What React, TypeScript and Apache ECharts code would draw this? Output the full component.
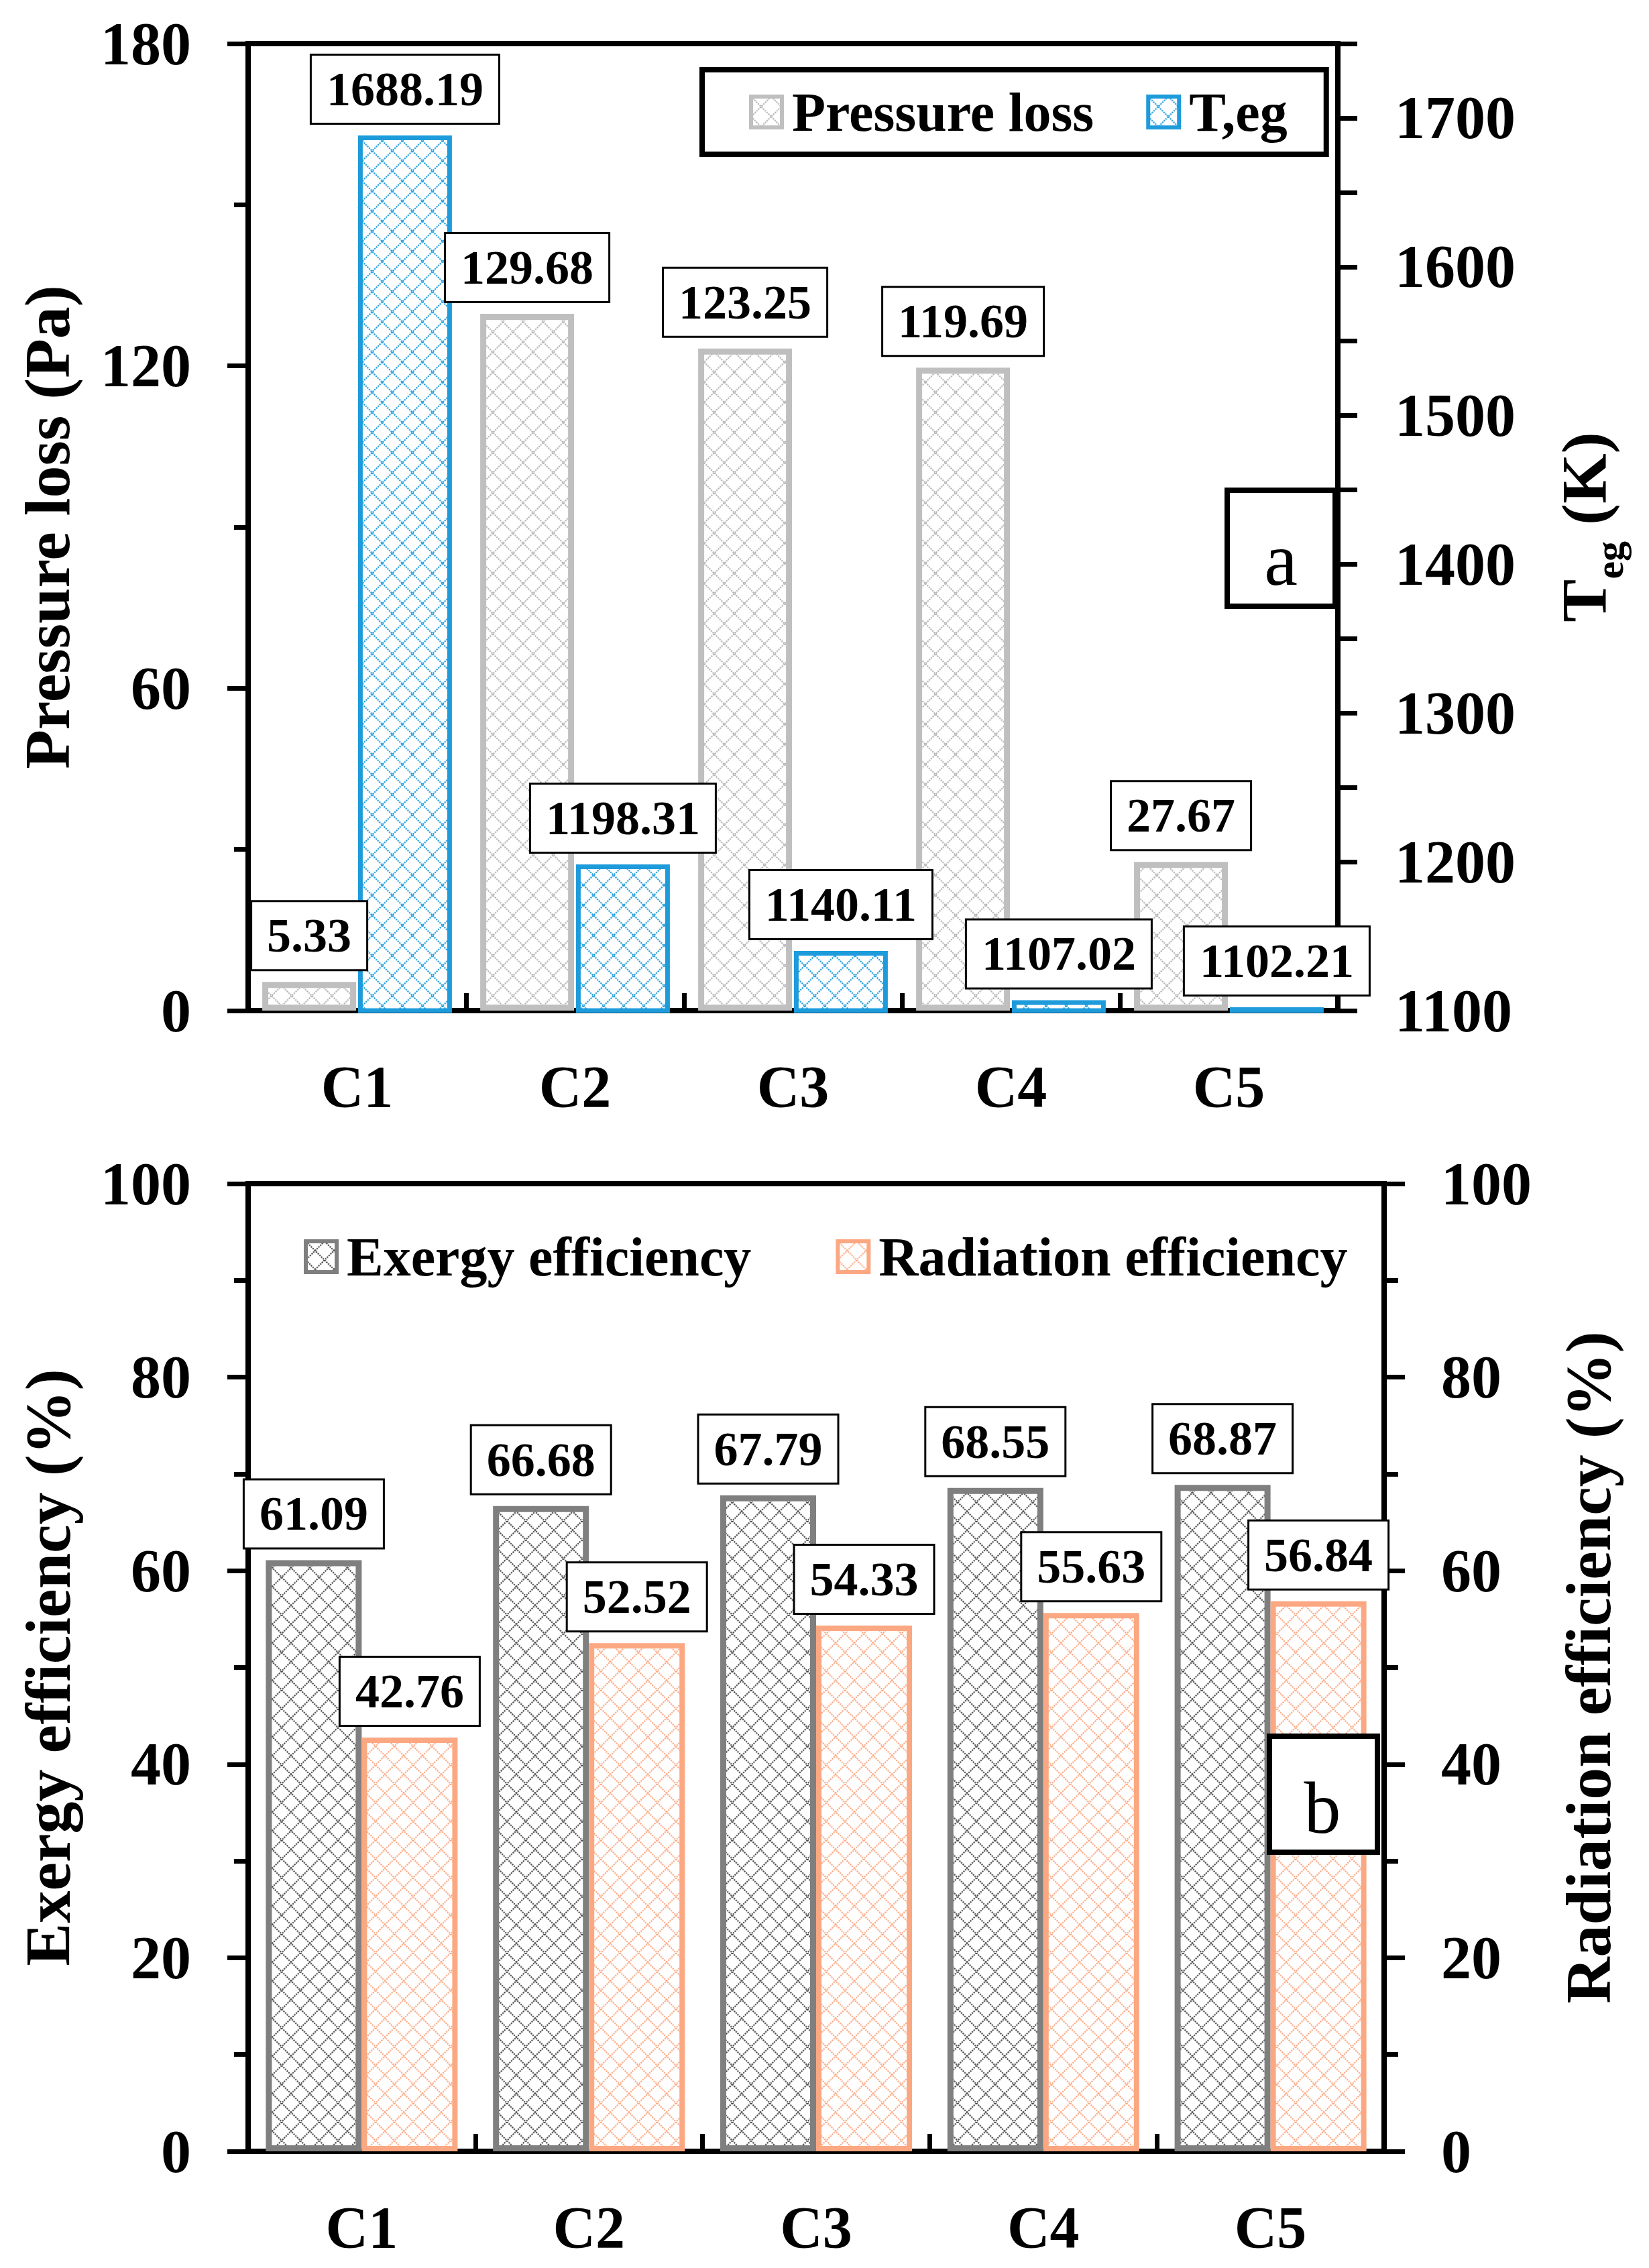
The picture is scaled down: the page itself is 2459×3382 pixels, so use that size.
import React, { useEffect, useRef } from "react";
import * as echarts from "echarts";

// ---------- data ----------
const categories = ["C1", "C2", "C3", "C4", "C5"];
const pressureLoss = [5.33, 129.68, 123.25, 119.69, 27.67];
const tEg = [1688.19, 1198.31, 1140.11, 1107.02, 1102.21];
const exergyEff = [61.09, 66.68, 67.79, 68.55, 68.87];
const radiationEff = [42.76, 52.52, 54.33, 55.63, 56.84];

const pressureTickLabels = [0, 60, 120, 180];
const tegTickLabels = [1100, 1200, 1300, 1400, 1500, 1600, 1700];
const effTickLabels = [0, 20, 40, 60, 80, 100];

const legendTop = ["Pressure loss", "T,eg"];
const legendBottom = ["Exergy efficiency", "Radiation efficiency"];

// ---------- styles ----------
const FONT = "'Liberation Serif', 'Times New Roman', Times, serif";
const GRAY = "#BFBFBF";
const BLUE = "#1D9BDB";
const DARK = "#7F7F7F";
const SALMON = "#FBA882";

function hatch(color: string, size = 30) {
  const s = 3;
  const c = document.createElement("canvas");
  c.width = size * s;
  c.height = size * s;
  const ctx = c.getContext("2d") as CanvasRenderingContext2D;
  ctx.fillStyle = "#ffffff";
  ctx.fillRect(0, 0, c.width, c.height);
  ctx.strokeStyle = color;
  ctx.lineWidth = 2.2 * s;
  ctx.setLineDash([2.2 * s, 1.4 * s]);
  ctx.beginPath();
  ctx.moveTo(0, 0);
  ctx.lineTo(c.width, c.height);
  ctx.moveTo(c.width, 0);
  ctx.lineTo(0, c.height);
  ctx.stroke();
  return {
    image: c.toDataURL("image/png"),
    repeat: "repeat",
    imageWidth: size,
    imageHeight: size,
  };
}

const dataLabel = {
  show: true,
  position: "top",
  distance: 19,
  fontFamily: FONT,
  fontSize: 72,
  fontWeight: "bold",
  color: "#000",
  backgroundColor: "#fff",
  borderColor: "#000",
  borderWidth: 3,
  padding: [14, 22, 14, 22],
  formatter: (p: any) => Number(p.value).toFixed(2),
};

const axisLabelStyle = {
  fontFamily: FONT,
  fontSize: 90,
  fontWeight: "bold",
  color: "#000",
  margin: 85,
};

const nameStyle = {
  fontFamily: FONT,
  fontSize: 96,
  fontWeight: "bold",
  color: "#000",
};

const legendText = {
  fontFamily: FONT,
  fontSize: 82,
  fontWeight: "bold",
  color: "#000",
  padding: [0, 0, 0, 10],
};

function xAxisFor(gridIndex: number) {
  return {
    type: "category",
    gridIndex,
    data: categories,
    axisLine: { show: true, lineStyle: { color: "#000", width: 8 } },
    axisTick: { show: true, inside: true, length: 26, lineStyle: { color: "#000", width: 7 } },
    axisLabel: { fontFamily: FONT, fontSize: 88, fontWeight: "bold", color: "#000", margin: 69 },
    splitLine: { show: false },
  };
}

function valueAxis(opts: any) {
  return {
    type: "value",
    axisLine: { show: true, onZero: false, lineStyle: { color: "#000", width: 8 } },
    axisTick: { show: true, inside: false, length: 31, lineStyle: { color: "#000", width: 7 } },
    splitLine: { show: false },
    nameLocation: "middle",
    nameRotate: 90,
    nameTextStyle: nameStyle,
    ...opts,
  };
}

export default function App() {
  const ref = useRef<HTMLDivElement>(null);

  useEffect(() => {
    document.body.style.margin = "0";
    if (!ref.current) return;
    const chart = echarts.init(ref.current, null, { renderer: "svg" });

    const option: any = {
      animation: false,
      backgroundColor: "#ffffff",
      grid: [
        { left: 370, top: 65, width: 1625, height: 1442, show: true, borderColor: "#000", borderWidth: 8, backgroundColor: "transparent" },
        { left: 370, top: 1765, width: 1694, height: 1443, show: true, borderColor: "#000", borderWidth: 8, backgroundColor: "transparent" },
      ],
      legend: [
        {
          left: 1047,
          top: 104,
          orient: "horizontal",
          icon: "rect",
          itemWidth: 46,
          itemHeight: 46,
          itemGap: 78,
          padding: [22, 58, 22, 70],
          borderColor: "#000",
          borderWidth: 8,
          backgroundColor: "#fff",
          selectedMode: false,
          data: legendTop.map((n) => ({ name: n, itemStyle: { borderWidth: 6 } })),
          textStyle: legendText,
        },
        {
          left: 453,
          top: 1833,
          orient: "horizontal",
          icon: "rect",
          itemWidth: 46,
          itemHeight: 46,
          itemGap: 126,
          padding: 0,
          selectedMode: false,
          data: legendBottom.map((n) => ({ name: n, itemStyle: { borderWidth: 6 } })),
          textStyle: legendText,
        },
      ],
      xAxis: [xAxisFor(0), xAxisFor(1)],
      yAxis: [
        valueAxis({
          gridIndex: 0,
          position: "left",
          min: 0,
          max: 180,
          interval: 60,
          minorTick: { show: true, splitNumber: 2, length: 21, lineStyle: { color: "#000", width: 7 } },
          axisLabel: {
            ...axisLabelStyle,
            formatter: (v: number) => (pressureTickLabels.includes(v) ? String(v) : ""),
          },
          name: "Pressure loss (Pa)",
          nameGap: 252,
        }),
        valueAxis({
          gridIndex: 0,
          position: "right",
          min: 1100,
          max: 1750,
          interval: 50,
          axisTick: { show: true, inside: false, length: 29, lineStyle: { color: "#000", width: 7 } },
          axisLabel: {
            ...axisLabelStyle,
            formatter: (v: number) => (tegTickLabels.includes(v) ? String(v) : ""),
          },
          name: "{m|T}{s|eg}{m| (K)}",
          nameGap: 319,
          nameTextStyle: {
            ...nameStyle,
            rich: {
              m: { fontFamily: FONT, fontSize: 96, fontWeight: "bold", color: "#000", verticalAlign: "top" },
              s: { fontFamily: FONT, fontSize: 60, fontWeight: "bold", color: "#000", verticalAlign: "top", padding: [56, 0, 0, 0] },
            },
          },
        }),
        valueAxis({
          gridIndex: 1,
          position: "left",
          min: 0,
          max: 100,
          interval: 20,
          minorTick: { show: true, splitNumber: 2, length: 21, lineStyle: { color: "#000", width: 7 } },
          axisLabel: {
            ...axisLabelStyle,
            formatter: (v: number) => (effTickLabels.includes(v) ? String(v) : ""),
          },
          name: "Exergy efficiency (%)",
          nameGap: 251,
        }),
        valueAxis({
          gridIndex: 1,
          position: "right",
          min: 0,
          max: 100,
          interval: 20,
          minorTick: { show: true, splitNumber: 2, length: 21, lineStyle: { color: "#000", width: 7 } },
          axisLabel: {
            ...axisLabelStyle,
            formatter: (v: number) => (effTickLabels.includes(v) ? String(v) : ""),
          },
          name: "Radiation efficiency (%)",
          nameGap: 256,
        }),
      ],
      series: [
        {
          name: legendTop[0],
          type: "bar",
          xAxisIndex: 0,
          yAxisIndex: 0,
          data: pressureLoss,
          barWidth: 140,
          barGap: "2%",
          itemStyle: { color: hatch("#B4B4B4"), borderColor: GRAY, borderWidth: 9 },
          label: dataLabel,
          emphasis: { disabled: true },
          z: 2,
        },
        {
          name: legendTop[1],
          type: "bar",
          xAxisIndex: 0,
          yAxisIndex: 1,
          data: tEg,
          barWidth: 140,
          barGap: "2%",
          itemStyle: { color: hatch(BLUE), borderColor: BLUE, borderWidth: 7 },
          label: dataLabel,
          emphasis: { disabled: true },
          z: 2,
        },
        {
          name: legendBottom[0],
          type: "bar",
          xAxisIndex: 1,
          yAxisIndex: 2,
          data: exergyEff,
          barWidth: 143,
          barGap: "0%",
          itemStyle: { color: hatch("#4A4A4A", 28), borderColor: DARK, borderWidth: 9 },
          label: dataLabel,
          emphasis: { disabled: true },
          z: 2,
        },
        {
          name: legendBottom[1],
          type: "bar",
          xAxisIndex: 1,
          yAxisIndex: 3,
          data: radiationEff,
          barWidth: 143,
          barGap: "0%",
          itemStyle: { color: hatch(SALMON, 28), borderColor: SALMON, borderWidth: 8 },
          label: dataLabel,
          emphasis: { disabled: true },
          z: 2,
        },
      ],
      graphic: [
        {
          type: "rect",
          z: 100,
          shape: { x: 1830, y: 731, width: 161, height: 173 },
          style: { fill: "#fff", stroke: "#000", lineWidth: 8 },
        },
        {
          type: "text",
          z: 101,
          x: 1910,
          y: 834,
          style: {
            text: "a",
            fontFamily: FONT,
            fontSize: 112,
            fontWeight: "normal",
            fill: "#000",
            align: "center",
            verticalAlign: "middle",
            textAlign: "center",
            textVerticalAlign: "middle",
          },
        },
        {
          type: "rect",
          z: 100,
          shape: { x: 1893, y: 2589, width: 161, height: 173 },
          style: { fill: "#fff", stroke: "#000", lineWidth: 8 },
        },
        {
          type: "text",
          z: 101,
          x: 1972,
          y: 2696,
          style: {
            text: "b",
            fontFamily: FONT,
            fontSize: 110,
            fontWeight: "normal",
            fill: "#000",
            align: "center",
            verticalAlign: "middle",
            textAlign: "center",
            textVerticalAlign: "middle",
          },
        },
      ],
    };

    chart.setOption(option);
    return () => {
      chart.dispose();
    };
  }, []);

  return (
    <div
      ref={ref}
      style={{ position: "absolute", left: 0, top: 0, width: 2459, height: 3382, background: "#fff" }}
    />
  );
}
